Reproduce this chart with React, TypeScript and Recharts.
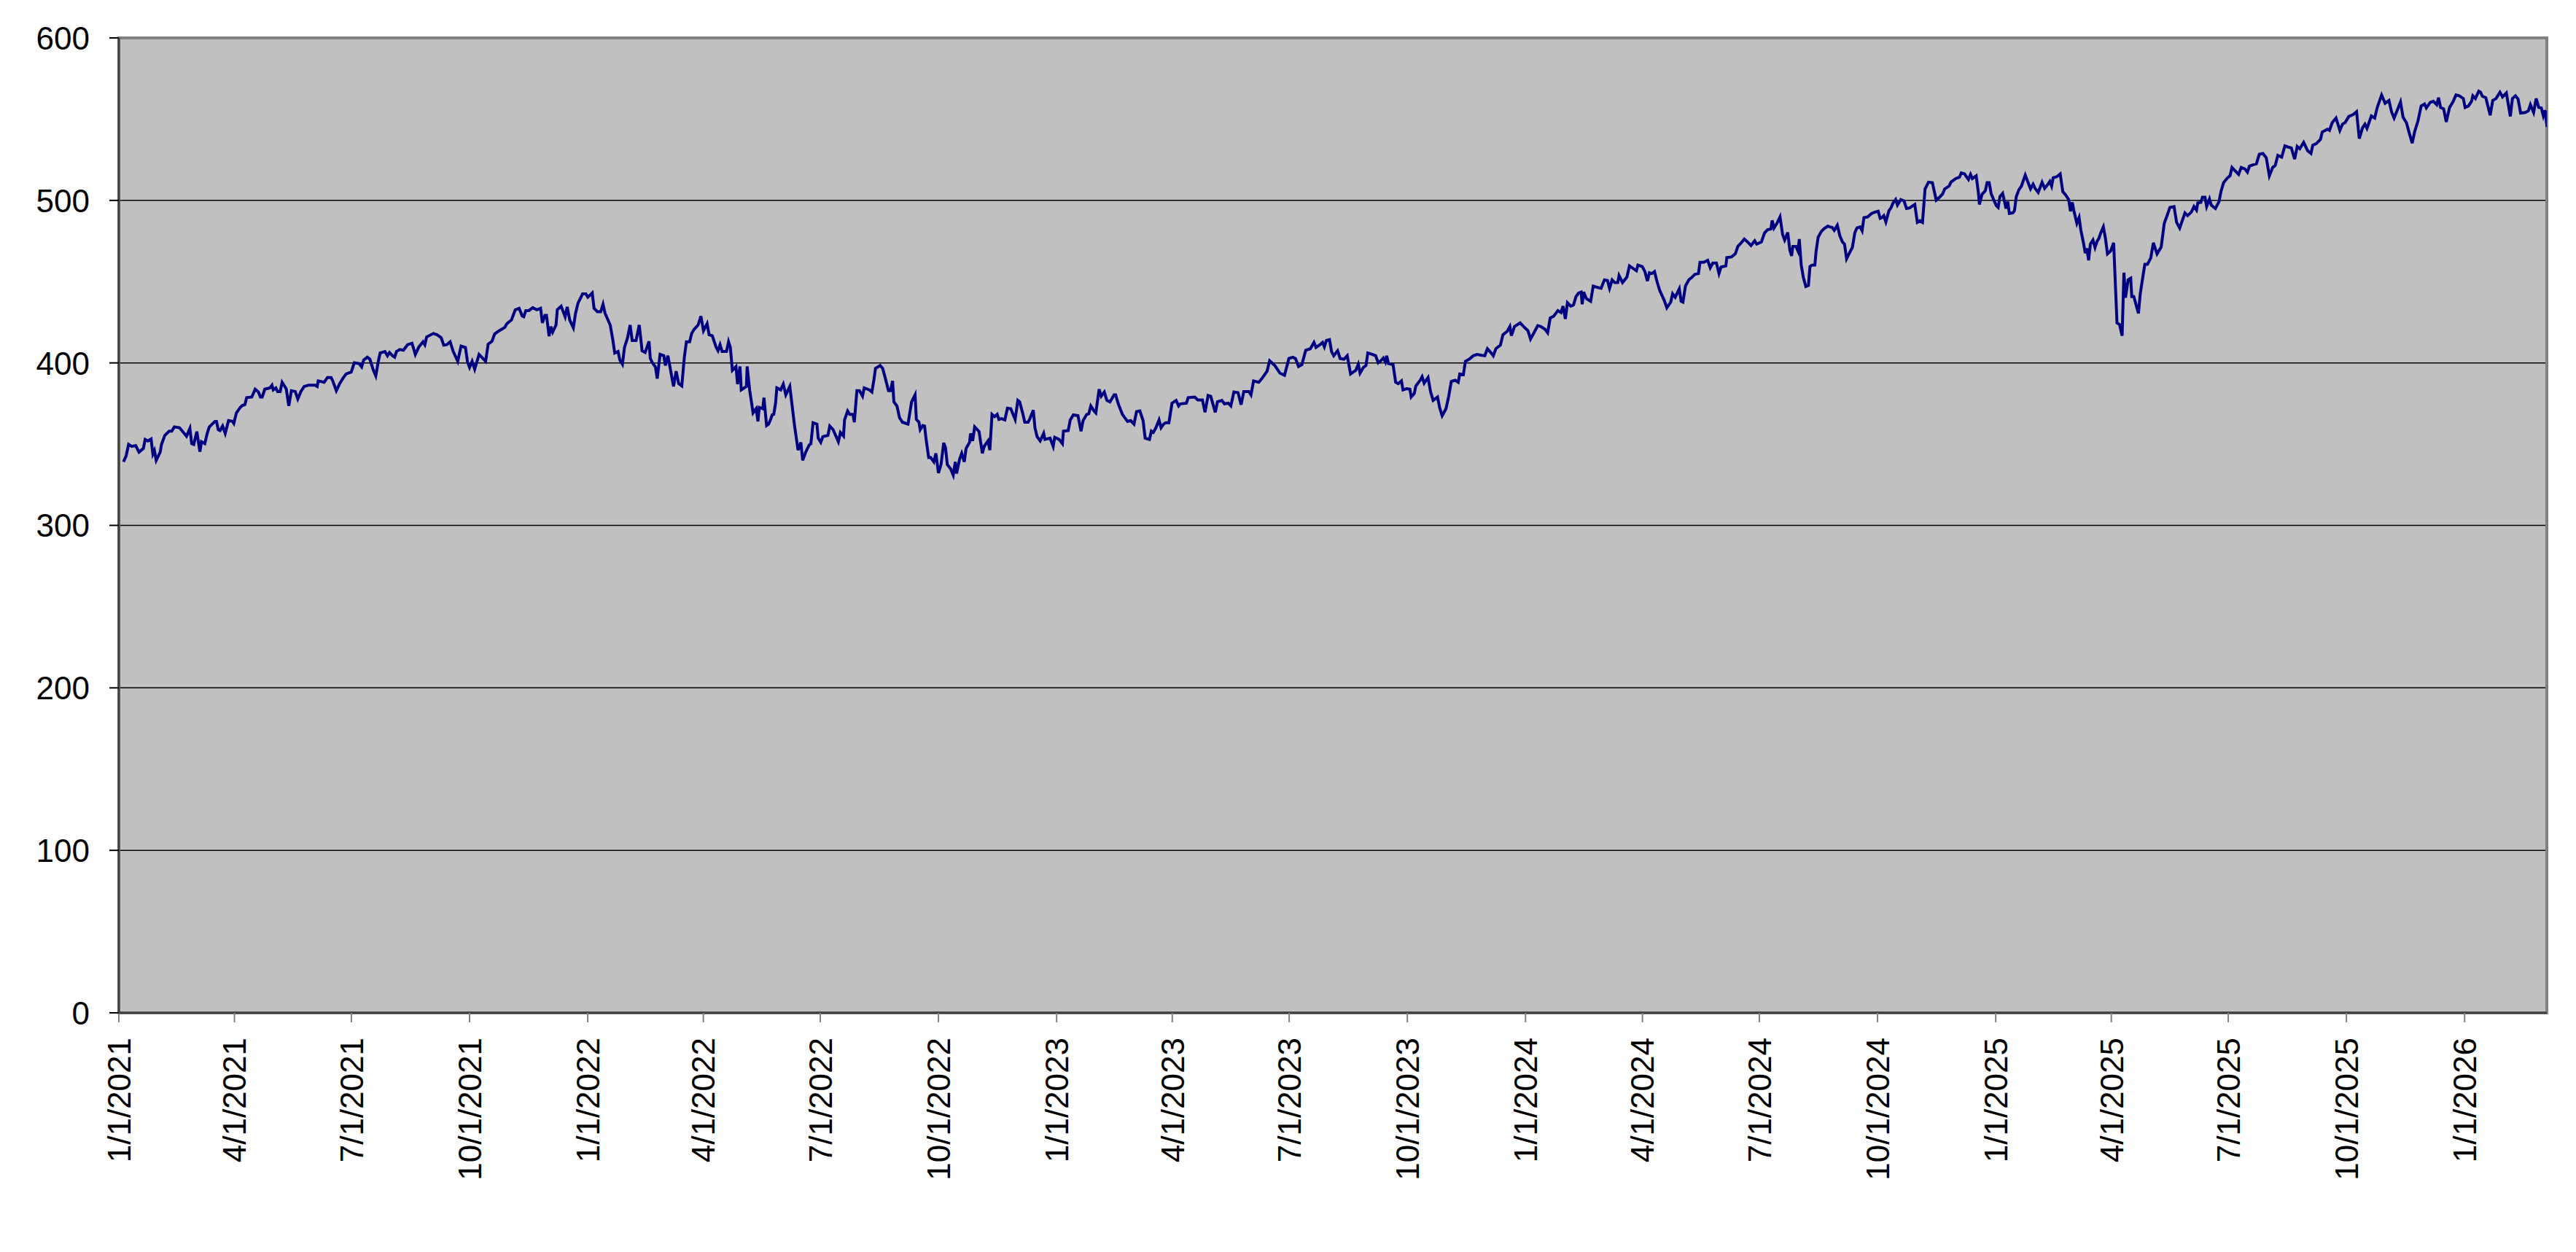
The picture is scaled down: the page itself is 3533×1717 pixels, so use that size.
import React from "react";
import {
  LineChart,
  Line,
  XAxis,
  YAxis,
  CartesianGrid,
  ReferenceArea,
} from "recharts";

// Each pair: [days since 1/1/2021, closing value]
const segJan2021toNov2021: [number, number][] = [
  [3.6, 339.1], [5.6, 342.6], [7.6, 349.8], [10.1, 348.6], [13.1, 349.1], [15.7, 345.1], [19.1, 347.4], [20.5, 352.9],
  [22.5, 352.0], [25.1, 353.2], [26.5, 343.9], [27.7, 346.0], [29.1, 340.0], [32.2, 345.1], [33.2, 349.8], [35.8, 355.4],
  [39.2, 358.0], [41.2, 358.0], [43.2, 360.6], [47.2, 360.1], [52.7, 354.9], [55.3, 359.7], [56.7, 350.3], [58.3, 349.8],
  [60.7, 357.7], [63.1, 345.3], [64.3, 351.5], [66.9, 350.3], [68.8, 356.6], [70.4, 360.6], [74.8, 364.0], [76.0, 364.0],
  [77.4, 358.9], [78.8, 358.4], [80.8, 361.1], [82.8, 356.6], [85.4, 364.5], [88.5, 364.0], [89.5, 362.8], [91.5, 369.2],
  [94.5, 372.6], [96.1, 373.8], [98.1, 374.3], [99.5, 378.6], [103.5, 379.0], [106.1, 383.8], [108.6, 382.1], [110.2, 379.0],
  [111.6, 379.0], [113.6, 383.8], [117.6, 384.6], [119.2, 386.3], [120.2, 383.4], [122.2, 384.6], [123.6, 382.4], [125.6, 382.4],
  [127.1, 388.1], [130.3, 384.1], [132.3, 373.5], [134.3, 382.9], [137.3, 382.4], [139.3, 377.8], [141.7, 382.4], [144.3, 385.5],
  [147.8, 386.3], [152.8, 386.3], [154.4, 385.5], [155.2, 388.9], [159.8, 388.1], [162.4, 391.0], [165.2, 391.0], [166.5, 388.9],
  [169.3, 382.9], [171.9, 387.2], [174.5, 390.6], [176.9, 393.2], [180.9, 394.4], [183.3, 400.1], [187.0, 399.6], [189.0, 397.5],
  [190.6, 401.8], [193.4, 403.5], [195.4, 402.3], [198.0, 395.8], [200.0, 392.0], [202.0, 401.0], [203.4, 406.1], [207.1, 407.0],
  [209.1, 404.4], [210.7, 406.4], [213.1, 404.4], [214.7, 403.5], [216.1, 407.0], [218.7, 408.2], [221.5, 407.8], [224.8, 411.2],
  [228.2, 412.1], [230.8, 405.2], [233.6, 409.9], [236.8, 413.0], [238.2, 411.2], [239.6, 416.0], [244.9, 418.1], [247.7, 417.3],
  [250.9, 415.5], [252.9, 410.9], [255.3, 411.2], [257.9, 413.0], [260.3, 407.0], [263.8, 401.0], [266.4, 410.4], [269.8, 409.5],
  [271.4, 400.6], [273.0, 397.2], [275.0, 401.0], [277.0, 396.1], [280.4, 405.2], [285.5, 401.0], [287.5, 411.6], [290.5, 413.3],
  [292.5, 417.8], [295.5, 419.5], [300.5, 421.9], [302.0, 424.1], [305.6, 426.4], [308.6, 432.7], [311.6, 433.6], [314.0, 428.8],
];

const segNov2021toSep2022: [number, number][] = [
  [315.2, 428.4], [316.8, 432.2], [319.2, 432.2], [322.2, 434.0], [325.3, 432.7], [328.3, 433.6], [329.7, 424.6], [331.7, 429.3],
  [332.9, 429.3], [334.9, 416.4], [336.3, 422.4], [337.7, 419.0], [340.3, 423.3], [341.3, 432.7], [344.3, 434.9], [347.4, 428.4],
  [349.0, 434.4], [351.0, 426.4], [353.8, 421.6], [355.4, 430.1], [357.4, 436.7], [361.0, 442.5], [363.5, 442.5], [365.1, 440.4],
  [368.5, 443.0], [369.9, 433.6], [372.5, 431.5], [375.1, 431.5], [376.9, 436.1], [378.5, 430.5], [382.5, 423.3], [384.6, 413.8],
  [386.0, 406.1], [388.6, 407.0], [390.0, 401.8], [392.0, 399.2], [393.6, 409.5], [396.0, 415.5], [398.0, 423.3], [399.6, 413.8],
  [402.6, 413.8], [405.1, 423.3], [407.3, 407.5], [409.7, 406.4], [412.7, 413.3], [413.7, 402.7], [415.7, 399.6], [417.7, 397.5],
  [419.1, 390.3], [421.3, 405.2], [424.2, 404.4], [425.4, 398.4], [427.4, 404.4], [429.8, 394.1], [431.8, 385.5], [433.8, 394.9],
  [435.8, 387.2], [438.2, 385.8], [440.2, 403.5], [441.8, 413.0], [444.3, 413.0], [445.9, 418.1], [447.9, 420.7], [450.9, 423.3],
  [453.1, 428.8], [455.1, 419.8], [457.9, 424.1], [459.5, 417.3], [461.9, 416.7], [465.0, 409.5], [466.4, 407.5], [468.0, 411.2],
  [469.6, 407.0], [473.0, 407.0], [474.6, 413.0], [476.0, 409.5], [477.6, 395.4], [480.4, 397.8], [481.6, 386.9], [483.5, 397.8],
  [484.5, 383.4], [488.5, 385.5], [489.1, 397.8], [491.1, 382.9], [493.7, 369.2], [496.1, 371.8], [497.5, 364.0], [498.5, 372.6],
  [501.2, 371.8], [502.2, 378.6], [504.2, 361.4], [505.8, 362.3], [507.2, 364.9], [508.6, 368.0], [509.8, 368.3], [511.2, 375.2],
  [512.2, 384.6], [515.2, 383.4], [517.2, 386.9], [519.2, 380.3], [522.3, 385.5], [525.9, 361.8], [528.7, 346.3], [530.9, 351.1],
  [532.3, 340.0], [534.7, 345.1], [537.3, 349.4], [538.7, 350.3], [540.4, 363.2], [543.4, 362.3], [544.4, 353.7], [546.4, 351.1],
  [548.0, 354.6], [552.0, 355.4], [553.4, 361.1], [556.0, 358.9], [558.4, 354.6], [560.1, 351.5], [561.7, 357.2], [564.1, 355.0],
  [564.9, 364.9], [567.3, 370.4], [568.9, 368.3], [571.5, 368.3], [572.5, 363.5], [574.5, 382.9], [576.5, 382.9], [578.9, 379.5],
  [580.2, 384.6], [584.2, 383.4], [586.2, 382.1], [587.8, 389.8], [589.0, 396.6], [592.6, 398.4], [594.6, 396.6], [596.6, 390.6],
  [599.1, 382.9], [600.7, 382.9], [602.3, 388.9], [603.3, 376.0], [605.7, 373.5], [607.7, 366.3], [609.9, 363.5], [614.3, 362.3],
  [615.7, 369.2], [617.1, 376.0], [619.8, 380.3], [620.8, 365.2], [622.8, 363.5], [623.8, 358.9], [625.8, 361.4], [627.2, 361.1],
  [628.4, 352.9], [630.4, 341.7],
];

const segSep2022toAug2023: [number, number][] = [
  [632.0, 341.7], [634.4, 339.1], [636.0, 344.3], [638.0, 332.2], [640.0, 337.4], [642.1, 350.8], [643.5, 347.7], [644.9, 337.4],
  [647.5, 334.8], [649.5, 330.9], [651.1, 339.1], [652.1, 331.9], [654.5, 340.8], [656.1, 344.3], [658.1, 339.1], [659.5, 347.4],
  [662.2, 351.1], [663.0, 356.6], [664.6, 352.0], [666.2, 360.6], [669.6, 357.7], [672.2, 344.3], [673.6, 348.6], [676.6, 352.0],
  [678.0, 346.3], [679.7, 368.3], [681.7, 366.9], [683.7, 368.3], [685.1, 365.2], [687.1, 365.7], [689.7, 364.9], [691.7, 372.1],
  [694.3, 371.8], [697.7, 365.2], [699.8, 376.9], [701.2, 376.0], [703.8, 368.3], [705.2, 363.5], [707.8, 363.5], [709.2, 365.7],
  [711.8, 370.9], [713.2, 359.7], [714.8, 354.6], [717.2, 352.0], [719.9, 356.6], [720.9, 352.9], [724.9, 353.7], [727.3, 348.6],
  [728.5, 354.2], [731.9, 352.9], [734.5, 350.3], [735.3, 358.0], [739.0, 358.4], [740.6, 364.9], [743.0, 368.0], [746.6, 367.5],
  [749.0, 358.0], [750.6, 364.5], [753.4, 368.3], [755.0, 368.7], [756.6, 373.5], [759.1, 370.4], [760.5, 369.2], [763.1, 383.8],
  [764.7, 379.5], [767.1, 382.1], [769.1, 376.9], [771.5, 376.0], [774.7, 380.3], [775.9, 380.3], [778.2, 374.3], [781.2, 368.3],
  [783.6, 365.7], [785.2, 364.0], [787.6, 364.5], [790.2, 362.3], [792.2, 370.0], [794.8, 370.4], [797.3, 364.5], [798.9, 353.7],
  [802.3, 352.9], [803.7, 358.0], [805.3, 357.2], [807.3, 360.1], [809.7, 364.9], [811.3, 360.1], [813.3, 362.3], [814.9, 363.2],
  [817.4, 363.2], [819.8, 375.2], [823.0, 376.9], [825.0, 373.5], [826.4, 374.8], [831.0, 375.2], [832.4, 378.6], [837.5, 379.0],
  [839.9, 377.2], [843.5, 377.2], [845.5, 369.6], [847.9, 380.0], [849.9, 379.5], [853.5, 369.6], [855.2, 376.0], [858.6, 376.9],
  [860.6, 374.8], [863.6, 375.2], [865.6, 373.5], [868.0, 382.1], [871.2, 381.7], [873.6, 374.3], [875.7, 382.4], [879.7, 382.4],
  [881.3, 380.3], [883.3, 388.9], [887.3, 388.1], [889.7, 390.3], [893.8, 394.9], [895.8, 401.3], [899.8, 398.4], [901.8, 396.1],
  [903.8, 393.7], [907.4, 392.4], [908.8, 396.6], [910.8, 402.7], [913.9, 403.5], [915.9, 402.7], [918.3, 397.8], [920.9, 398.9],
  [923.9, 407.8], [927.5, 408.7], [930.3, 412.6], [931.9, 409.5], [935.0, 411.2], [937.0, 412.6], [938.4, 409.9], [940.0, 413.8],
  [942.4, 414.3], [944.0, 407.0],
];

const segAug2023toJul2024: [number, number][] = [
  [945.7, 404.4], [948.7, 407.5], [950.7, 402.7], [953.7, 402.3], [956.2, 404.4], [958.8, 393.2], [962.8, 395.4], [964.8, 399.2],
  [966.2, 393.7], [968.8, 397.2], [970.8, 398.4], [972.2, 406.1], [975.9, 405.2], [978.3, 404.4], [980.3, 400.1], [982.3, 401.3],
  [984.3, 403.0], [985.9, 400.6], [986.9, 404.4], [988.3, 399.6], [991.9, 398.9], [993.9, 388.1], [995.9, 387.2], [998.4, 388.9],
  [999.6, 383.4], [1002.4, 384.1], [1005.0, 383.8], [1006.0, 379.0], [1008.4, 381.2], [1009.6, 385.8], [1013.0, 389.3], [1014.5, 391.5],
  [1016.1, 387.5], [1019.1, 391.0], [1021.1, 382.1], [1023.1, 376.9], [1026.5, 379.0], [1028.1, 372.6], [1030.1, 367.5], [1033.1, 371.8],
  [1035.2, 379.5], [1037.2, 388.6], [1040.2, 389.3], [1042.6, 388.1], [1043.8, 393.2], [1046.6, 392.7], [1048.2, 401.0], [1051.2, 402.3],
  [1054.3, 404.4], [1057.3, 405.2], [1060.7, 404.7], [1063.3, 404.4], [1065.3, 408.7], [1068.3, 406.1], [1069.9, 404.4], [1071.9, 408.7],
  [1075.4, 410.9], [1077.4, 417.3], [1080.8, 419.5], [1082.8, 422.4], [1084.0, 416.7], [1086.4, 422.4], [1090.8, 424.6], [1094.5, 421.6],
  [1096.9, 419.8], [1098.9, 414.7], [1101.5, 418.5], [1104.5, 422.9], [1106.9, 422.4], [1110.1, 420.7], [1112.2, 418.5], [1114.2, 427.6],
  [1117.0, 428.8], [1120.2, 432.2], [1122.6, 431.0], [1124.2, 434.9], [1126.0, 427.0], [1127.6, 437.0], [1130.2, 434.9], [1132.3, 435.6],
  [1134.3, 440.8], [1136.3, 443.0], [1138.3, 443.6], [1139.1, 436.1], [1140.3, 443.6], [1142.3, 439.6], [1145.7, 437.9], [1147.7, 447.3],
  [1150.8, 446.5], [1153.8, 445.9], [1156.4, 451.1], [1158.8, 450.7], [1160.4, 445.9], [1162.4, 451.1], [1164.4, 449.4], [1166.8, 449.4],
  [1167.8, 453.8], [1170.5, 449.4], [1173.9, 452.8], [1175.9, 459.7], [1181.3, 456.7], [1182.5, 460.2], [1185.9, 459.3], [1187.9, 456.2],
  [1189.9, 450.4], [1191.4, 455.5], [1193.4, 455.0], [1195.4, 456.2], [1197.4, 449.9], [1199.4, 444.7], [1203.0, 438.4], [1205.0, 433.9],
  [1208.0, 437.4], [1209.5, 442.5], [1211.5, 440.4], [1214.7, 445.6], [1216.1, 437.9], [1217.5, 437.4], [1219.5, 447.3], [1222.1, 451.1],
  [1224.7, 452.8], [1226.7, 454.5], [1229.6, 455.0], [1230.8, 461.9], [1233.6, 461.9], [1236.8, 463.1], [1238.8, 458.5], [1240.8, 461.4],
  [1243.6, 461.4], [1245.6, 455.0], [1247.2, 459.0], [1250.9, 459.7], [1251.7, 464.8], [1255.3, 465.2], [1258.3, 467.1], [1260.3, 471.7],
];

const segJul2024toApr2025: [number, number][] = [
  [1262.9, 473.9], [1265.3, 476.2], [1267.9, 474.4], [1270.5, 472.2], [1273.4, 475.1], [1275.0, 473.1], [1278.6, 474.4], [1281.0, 479.9],
  [1283.4, 482.0], [1286.0, 482.5], [1287.0, 487.7], [1288.4, 483.0], [1290.7, 485.9], [1293.1, 489.9], [1295.1, 479.1], [1296.7, 475.6],
  [1299.1, 480.3], [1300.7, 469.6], [1302.1, 465.8], [1303.1, 471.7], [1305.5, 471.7], [1307.1, 468.8], [1308.1, 476.2], [1309.6, 460.2],
  [1311.2, 452.8], [1313.2, 447.0], [1315.2, 447.6], [1316.4, 459.3], [1318.2, 460.2], [1320.2, 460.2], [1321.2, 468.8], [1322.8, 477.4],
  [1325.2, 480.8], [1327.2, 482.5], [1330.3, 484.2], [1331.7, 483.7], [1333.7, 483.4], [1335.3, 481.6], [1337.7, 484.7], [1339.7, 478.2],
  [1341.7, 474.4], [1343.3, 473.1], [1344.9, 464.1], [1347.3, 467.9], [1349.4, 471.0], [1351.4, 480.3], [1353.0, 483.0], [1355.4, 483.7],
  [1357.0, 481.3], [1358.4, 489.4], [1361.4, 489.9], [1364.4, 492.0], [1367.0, 492.8], [1369.5, 493.3], [1371.1, 488.9], [1372.5, 489.4],
  [1373.9, 490.6], [1375.5, 486.8], [1377.9, 493.7], [1379.5, 495.4], [1381.1, 498.5], [1383.1, 500.5], [1384.5, 497.1], [1387.1, 500.5],
  [1389.6, 499.7], [1391.6, 495.0], [1394.0, 495.4], [1398.0, 497.5], [1400.0, 486.5], [1402.0, 487.5], [1404.0, 486.5], [1406.0, 507.1],
  [1408.7, 511.2], [1411.7, 510.9], [1414.7, 500.2], [1417.7, 502.3], [1419.7, 504.0], [1421.3, 507.1], [1424.7, 508.8], [1426.1, 511.2],
  [1429.8, 513.4], [1432.8, 514.3], [1434.2, 516.9], [1436.8, 516.3], [1438.2, 514.6], [1439.8, 512.9], [1441.4, 516.0], [1442.8, 513.4],
  [1445.8, 515.1], [1447.5, 504.9], [1448.3, 497.5], [1450.3, 503.6], [1452.9, 506.0], [1454.3, 510.9], [1455.9, 510.9], [1457.5, 504.0],
  [1459.5, 500.2], [1461.5, 496.8], [1462.9, 495.7], [1464.3, 502.3], [1466.4, 504.3], [1468.0, 498.8], [1469.0, 495.0], [1470.4, 499.2],
  [1471.6, 492.0], [1474.4, 492.3], [1475.6, 493.7], [1477.0, 502.3], [1479.0, 506.5], [1481.0, 508.8], [1484.0, 515.6], [1486.1, 511.2],
  [1488.1, 507.1], [1490.1, 510.0], [1491.7, 507.4], [1494.1, 504.9], [1497.1, 511.2], [1499.1, 507.4], [1501.7, 510.0], [1503.1, 511.7],
  [1504.5, 508.8], [1505.7, 513.9], [1508.6, 514.6], [1511.2, 516.3], [1513.2, 505.4], [1515.2, 503.6], [1517.8, 500.5], [1519.2, 493.3],
  [1520.6, 498.8], [1521.8, 493.7], [1524.2, 485.9], [1525.9, 489.4], [1527.3, 481.6], [1529.3, 473.9], [1530.7, 467.6], [1531.9, 470.5],
  [1533.3, 463.1], [1534.7, 473.1], [1536.7, 475.6], [1538.3, 471.0], [1539.9, 474.8], [1541.3, 476.5], [1542.7, 479.9], [1544.8, 483.7],
  [1546.4, 476.8], [1548.0, 467.1], [1550.4, 468.8], [1552.8, 473.9], [1555.4, 424.6], [1557.4, 423.6], [1559.4, 416.7], [1560.8, 455.5],
  [1562.0, 440.1], [1564.1, 451.1], [1566.1, 452.1], [1566.9, 440.8], [1568.5, 440.8], [1572.1, 430.5], [1573.5, 442.5],
];

const segApr2025toMar2026: [number, number][] = [
  [1576.1, 455.9], [1577.1, 460.7], [1579.1, 460.7], [1581.7, 464.5], [1583.7, 473.9], [1586.6, 467.1], [1589.8, 471.3], [1592.2, 485.9],
  [1594.2, 490.2], [1596.6, 495.7], [1599.8, 496.2], [1601.8, 486.5], [1604.2, 483.0], [1608.3, 492.3], [1610.3, 490.6], [1613.3, 492.8],
  [1615.3, 496.2], [1617.3, 494.0], [1618.3, 498.5], [1620.7, 498.8], [1621.9, 501.9], [1623.9, 501.9], [1625.2, 496.2], [1627.4, 500.9],
  [1628.8, 497.1], [1632.0, 495.0], [1634.8, 499.2], [1636.4, 505.7], [1638.4, 510.9], [1641.4, 513.9], [1643.4, 515.1], [1644.9, 520.3],
  [1647.5, 518.1], [1650.1, 516.0], [1652.1, 520.3], [1654.9, 519.4], [1656.9, 517.4], [1658.5, 521.1], [1661.5, 522.0], [1663.9, 522.5],
  [1666.2, 528.4], [1669.0, 528.9], [1671.6, 526.3], [1674.0, 515.1], [1676.6, 520.3], [1678.6, 521.5], [1680.6, 527.7], [1683.6, 526.6],
  [1686.1, 533.5], [1688.7, 532.8], [1691.1, 532.3], [1693.7, 525.4], [1695.7, 533.2], [1697.7, 531.8], [1700.7, 535.7], [1703.8, 530.6],
  [1706.4, 528.9], [1707.8, 534.0], [1710.4, 534.9], [1713.8, 537.5], [1715.2, 542.1], [1719.2, 543.8], [1720.8, 543.1], [1722.9, 547.8],
  [1725.9, 550.7], [1728.9, 543.1], [1730.9, 546.9], [1732.9, 547.8], [1735.9, 551.7], [1739.3, 552.9], [1741.9, 554.6], [1744.0, 538.0],
  [1746.6, 544.8], [1748.4, 546.9], [1750.0, 544.3], [1753.4, 552.0], [1756.0, 550.7], [1758.0, 557.2], [1761.4, 564.9], [1764.1, 559.8],
  [1767.1, 561.5], [1769.1, 554.6], [1771.1, 550.7], [1773.1, 554.6], [1776.1, 560.6], [1778.1, 551.2], [1780.7, 547.8], [1782.8, 541.8],
  [1785.2, 535.2], [1787.2, 542.6], [1789.6, 548.6], [1792.2, 558.1], [1794.8, 559.3], [1796.2, 556.9], [1799.2, 560.3], [1801.7, 561.0],
  [1804.3, 558.9], [1805.7, 563.2], [1807.3, 557.2], [1809.7, 556.3], [1811.7, 548.3], [1814.3, 557.2], [1816.9, 560.6], [1819.3, 564.9],
  [1821.8, 564.4], [1825.0, 562.7], [1826.4, 557.2], [1829.0, 558.1], [1831.4, 561.0], [1832.4, 564.4], [1834.4, 562.7], [1837.0, 567.2],
  [1838.4, 566.6], [1839.9, 564.1], [1842.5, 563.2], [1845.9, 552.4], [1847.9, 561.5], [1850.5, 562.7], [1853.5, 566.6], [1855.5, 563.7],
  [1858.5, 566.1], [1861.6, 551.7], [1863.2, 562.7], [1865.6, 564.4], [1867.6, 562.4], [1869.6, 553.8], [1873.2, 554.1], [1875.6, 555.1],
  [1877.2, 558.9], [1879.7, 554.1], [1881.7, 562.7], [1883.7, 557.2], [1885.7, 556.9], [1887.3, 552.0], [1888.7, 555.5], [1890.1, 545.2],
];

const xTickLabels = [
  "1/1/2021", "4/1/2021", "7/1/2021", "10/1/2021",
  "1/1/2022", "4/1/2022", "7/1/2022", "10/1/2022",
  "1/1/2023", "4/1/2023", "7/1/2023", "10/1/2023",
  "1/1/2024", "4/1/2024", "7/1/2024", "10/1/2024",
  "1/1/2025", "4/1/2025", "7/1/2025", "10/1/2025",
  "1/1/2026",
];

const yTicks = [0, 100, 200, 300, 400, 500, 600];

const startDate = "1/1/2021";
const endDate = "3/6/2026";

const FONT = '"Liberation Sans", Arial, sans-serif';

function dayOffset(label: string): number {
  const [m, d, y] = label.split("/").map(Number);
  const [m0, d0, y0] = startDate.split("/").map(Number);
  return Math.round((Date.UTC(y, m - 1, d) - Date.UTC(y0, m0 - 1, d0)) / 86400000);
}

const xTicks = xTickLabels.map(dayOffset);
const xEnd = dayOffset(endDate);

const data = [
  ...segJan2021toNov2021,
  ...segNov2021toSep2022,
  ...segSep2022toAug2023,
  ...segAug2023toJul2024,
  ...segJul2024toApr2025,
  ...segApr2025toMar2026,
].map(([day, close]) => ({ day, close }));

const XTick = (props: any) => {
  const { x, y, payload } = props;
  const idx = xTicks.indexOf(payload.value);
  const label = idx >= 0 ? xTickLabels[idx] : "";
  return (
    <text
      x={x}
      y={y}
      transform={`rotate(-90 ${x} ${y})`}
      textAnchor="end"
      dy="0.36em"
      fontSize={44}
      fontFamily={FONT}
      fill="#000"
    >
      {label}
    </text>
  );
};

const YTick = (props: any) => {
  const { x, y, payload } = props;
  return (
    <text
      x={x}
      y={y}
      textAnchor="end"
      dy="0.36em"
      fontSize={44}
      fontFamily={FONT}
      fill="#000"
    >
      {payload.value}
    </text>
  );
};

export default function App() {
  return (
    <div style={{ position: "absolute", left: 0, top: 0, width: 3533, height: 1717, background: "#fff" }}>
      <LineChart
        width={3533}
        height={1717}
        data={data}
        margin={{ top: 52, right: 40, bottom: 0, left: 0 }}
      >
        <CartesianGrid
          vertical={false}
          horizontal={true}
          fill="#C0C0C0"
          stroke="#000"
          strokeWidth={1.5}
          fillOpacity={1}
        />
        <ReferenceArea
          x1={0}
          x2={xEnd}
          y1={0}
          y2={600}
          fill="none"
          stroke="#808080"
          strokeWidth={4}
          ifOverflow="visible"
        />
        <XAxis
          dataKey="day"
          type="number"
          domain={[0, xEnd]}
          ticks={xTicks}
          interval={0}
          height={328}
          tickSize={13}
          tickMargin={21}
          tick={<XTick />}
          axisLine={{ stroke: "#404040", strokeWidth: 3 }}
          tickLine={{ stroke: "#808080", strokeWidth: 2 }}
          allowDataOverflow
        />
        <YAxis
          type="number"
          domain={[0, 600]}
          ticks={yTicks}
          interval={0}
          width={163}
          tickSize={13}
          tickMargin={27}
          tick={<YTick />}
          axisLine={{ stroke: "#404040", strokeWidth: 3 }}
          tickLine={{ stroke: "#000", strokeWidth: 2 }}
        />
        <Line
          type="linear"
          dataKey="close"
          stroke="#000080"
          strokeWidth={4}
          dot={false}
          activeDot={false}
          isAnimationActive={false}
        />
      </LineChart>
    </div>
  );
}
